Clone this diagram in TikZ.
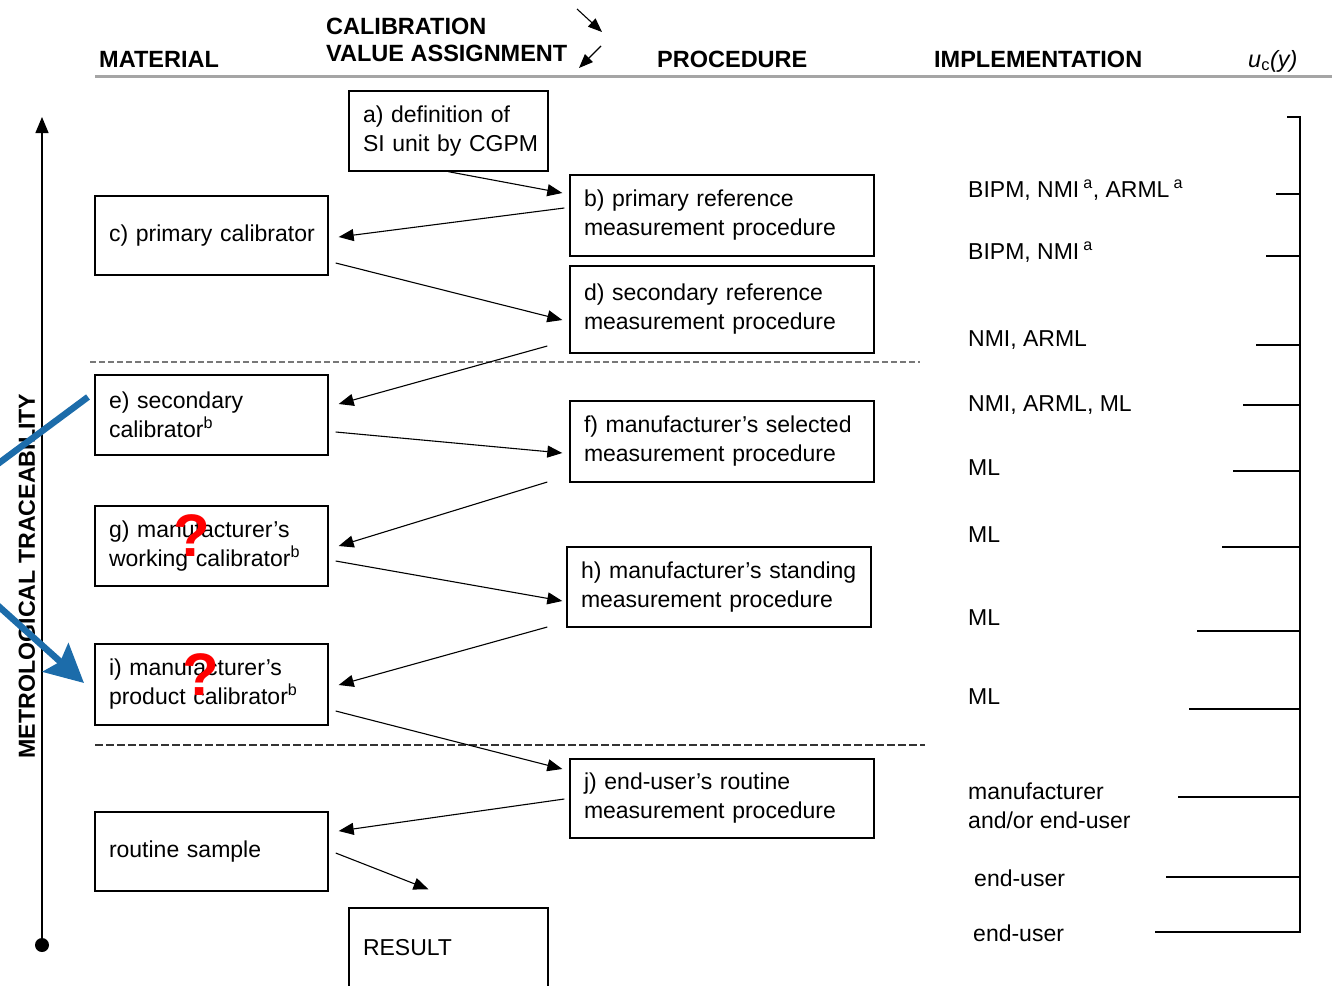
\documentclass[tikz,border=0pt]{standalone}
\usepackage{fontspec}
\setmainfont{Liberation Sans}
\usetikzlibrary{arrows.meta,calc}
\definecolor{bluearr}{RGB}{28,108,170}
\definecolor{hdrgray}{RGB}{165,165,165}
\definecolor{dashgray}{RGB}{120,120,120}
\begin{document}
\begin{tikzpicture}[x=1pt,y=-1pt,
  box/.style={draw, line width=1.4pt, inner xsep=14pt, inner ysep=0pt, align=left,
    font=\fontsize{23}{29}\selectfont},
  narrowbox/.style={box, minimum width=233pt, text width=205pt},
  widebox/.style={box, minimum width=304pt, text width=276pt},
  arr/.style={line width=1.1pt, -{Triangle[length=15pt,width=12pt]}},
  hdr/.style={font=\fontsize{23.5}{27}\selectfont\bfseries, anchor=base west, inner sep=0pt},
  impl/.style={font=\fontsize{23}{29}\selectfont, anchor=west, inner sep=0pt, align=left},
  tick/.style={line width=1.3pt},
  qmark/.style={text=red, font=\fontsize{60}{60}\selectfont\bfseries, inner sep=0pt},
  bluestroke/.style={draw=bluearr, line width=6.5pt},
]
\clip (0,0) rectangle (1332,985);

% header
\node[hdr] (hmat) at (99,67) {MATERIAL};
\node[hdr] (hcal1) at (326,34) {CALIBRATION};
\node[hdr] (hcal2) at (326,61) {VALUE ASSIGNMENT};
\node[hdr] (hproc) at (657,67) {PROCEDURE};
\node[hdr] (himpl) at (934,67) {IMPLEMENTATION};
\node[anchor=base west, inner sep=0pt, font=\fontsize{23.5}{27}\selectfont] (huc) at (1248,67) {\textit{u}\textsubscript{c}\textit{(y)}};
\coordinate (ha1) at (577,9);
\coordinate (ha2) at (602,32);
\coordinate (ha3) at (601,46);
\coordinate (ha4) at (579,68);
\draw[line width=1.1pt, -{Triangle[length=14pt,width=11pt]}] (ha1) -- (ha2);
\draw[line width=1.1pt, -{Triangle[length=14pt,width=11pt]}] (ha3) -- (ha4);
\draw[hdrgray, line width=3pt] (95,76) -- (1332,76);

% boxes
\node[box, minimum width=199pt, minimum height=80pt, text width=171pt] (a) at (448.5,131) {\mbox{a) definition of}\\\mbox{SI unit by CGPM}};
\node[widebox, minimum height=81pt] (b) at (722,215.5) {\mbox{b) primary reference}\\\mbox{measurement procedure}};
\node[narrowbox, minimum height=79pt] (c) at (211.5,235.5) {\mbox{c) primary calibrator}};
\node[widebox, minimum height=87pt] (d) at (722,309.5) {\mbox{d) secondary reference}\\\mbox{measurement procedure}};
\node[narrowbox, minimum height=80pt] (e) at (211.5,415) {\mbox{e) secondary}\\\mbox{calibrator\textsuperscript{b}}};
\node[widebox, minimum height=81pt] (f) at (722,441.5) {\mbox{f) manufacturer’s selected}\\\mbox{measurement procedure}};
\node[narrowbox, minimum height=80pt] (g) at (211.5,546) {\mbox{g) manufacturer’s}\\\mbox{working calibrator\textsuperscript{b}}};
\node[widebox, minimum height=80pt] (h) at (719,587) {\mbox{h) manufacturer’s standing}\\\mbox{measurement procedure}};
\node[narrowbox, minimum height=81pt] (i) at (211.5,684.5) {\mbox{i) manufacturer’s}\\\mbox{product calibrator\textsuperscript{b}}};
\node[widebox, minimum height=79pt] (j) at (722,798.5) {\mbox{j) end-user’s routine}\\\mbox{measurement procedure}};
\node[narrowbox, minimum height=79pt] (rs) at (211.5,851.5) {\mbox{routine sample}};
\node[box, minimum width=199pt, minimum height=80pt, text width=171pt] (res) at (448.5,948) {RESULT};

% dashed separators
\draw[dashgray, line width=1.2pt, dash pattern=on 6pt off 3pt] (90,362) -- (920,362);
\draw[black!80, line width=1.2pt, dash pattern=on 8pt off 3pt] (95,745) -- (925,745);

% connectors
\draw[arr] (a.south) -- ($(b.west)+(-7,-22.5)$);
\draw[arr] ($(b.west)+(-5,-7.5)$) -- ($(c.east)+(10,1.5)$);
\draw[arr] ($(c.east)+(7,27.5)$) -- ($(d.west)+(-7,10.5)$);
\draw[arr] ($(d.west)+(-22,36.5)$) -- ($(e.east)+(10,-11)$);
\draw[arr] ($(e.east)+(7,17)$) -- ($(f.west)+(-7,11.5)$);
\draw[arr] ($(f.west)+(-22,40.5)$) -- ($(g.east)+(10,0)$);
\draw[arr] ($(g.east)+(7,15)$) -- ($(h.west)+(-4,14)$);
\draw[arr] ($(h.west)+(-19,40)$) -- ($(i.east)+(10,0.5)$);
\draw[arr] ($(i.east)+(7,26.5)$) -- ($(j.west)+(-7,-29.5)$);
\draw[arr] ($(j.west)+(-5,0.5)$) -- ($(rs.east)+(10,-20.5)$);
\draw[arr] ($(rs.east)+(7,1.5)$) -- ($(res.north)+(-20,-18)$);

% traceability axis
\coordinate (axbot) at (42,945);
\coordinate (axtop) at (42,117);
\draw[line width=1.3pt, -{Triangle[length=16pt,width=13pt]}] (axbot) -- (axtop);
\fill (axbot) circle (7pt);
\node[rotate=90, font=\fontsize{23.2}{27}\selectfont\bfseries, inner sep=0pt] (mt) at (27,576) {METROLOGICAL TRACEABILITY};

% implementation labels
\node[impl] (i1) at (968,190) {BIPM, NMI\kern4pt\textsuperscript{a}, ARML\kern4pt\textsuperscript{a}};
\node[impl] (i2) at (968,252) {BIPM, NMI\kern4pt\textsuperscript{a}};
\node[impl] (i3) at (968,340) {NMI, ARML};
\node[impl] (i4) at (968,405) {NMI, ARML, ML};
\node[impl] (i5) at (968,468) {ML};
\node[impl] (i6) at (968,535) {ML};
\node[impl] (i7) at (968,618) {ML};
\node[impl] (i8) at (968,697) {ML};
\node[impl] (i9) at (968,806) {manufacturer\\and/or end-user};
\node[impl] (i10) at (974,878) {end-user};
\node[impl] (i11) at (973,933) {end-user};

% uncertainty scale
\draw[tick] (1287,117) -- (1300,117) -- (1300,932) -- (1155,932);
\draw[tick] (1276,194) -- (1300,194);
\draw[tick] (1266,256) -- (1300,256);
\draw[tick] (1256,345) -- (1300,345);
\draw[tick] (1243,405) -- (1300,405);
\draw[tick] (1233,471) -- (1300,471);
\draw[tick] (1222,547) -- (1300,547);
\draw[tick] (1197,631) -- (1300,631);
\draw[tick] (1189,709) -- (1300,709);
\draw[tick] (1178,797) -- (1300,797);
\draw[tick] (1166,877) -- (1300,877);

% annotations
\coordinate (bl1s) at (-5,466);
\coordinate (bl1e) at (88,397);
\draw[bluestroke] (bl1s) -- (bl1e);
\coordinate (bl2s) at (-5,603);
\coordinate (bl2e) at (84,683);
\draw[bluestroke, -{Stealth[length=38pt,width=38pt,inset=6pt]}] (bl2s) -- (bl2e);
\node[qmark] (q1) at (192,536) {?};
\node[qmark] (q2) at (201,675) {?};
\end{tikzpicture}
\end{document}
